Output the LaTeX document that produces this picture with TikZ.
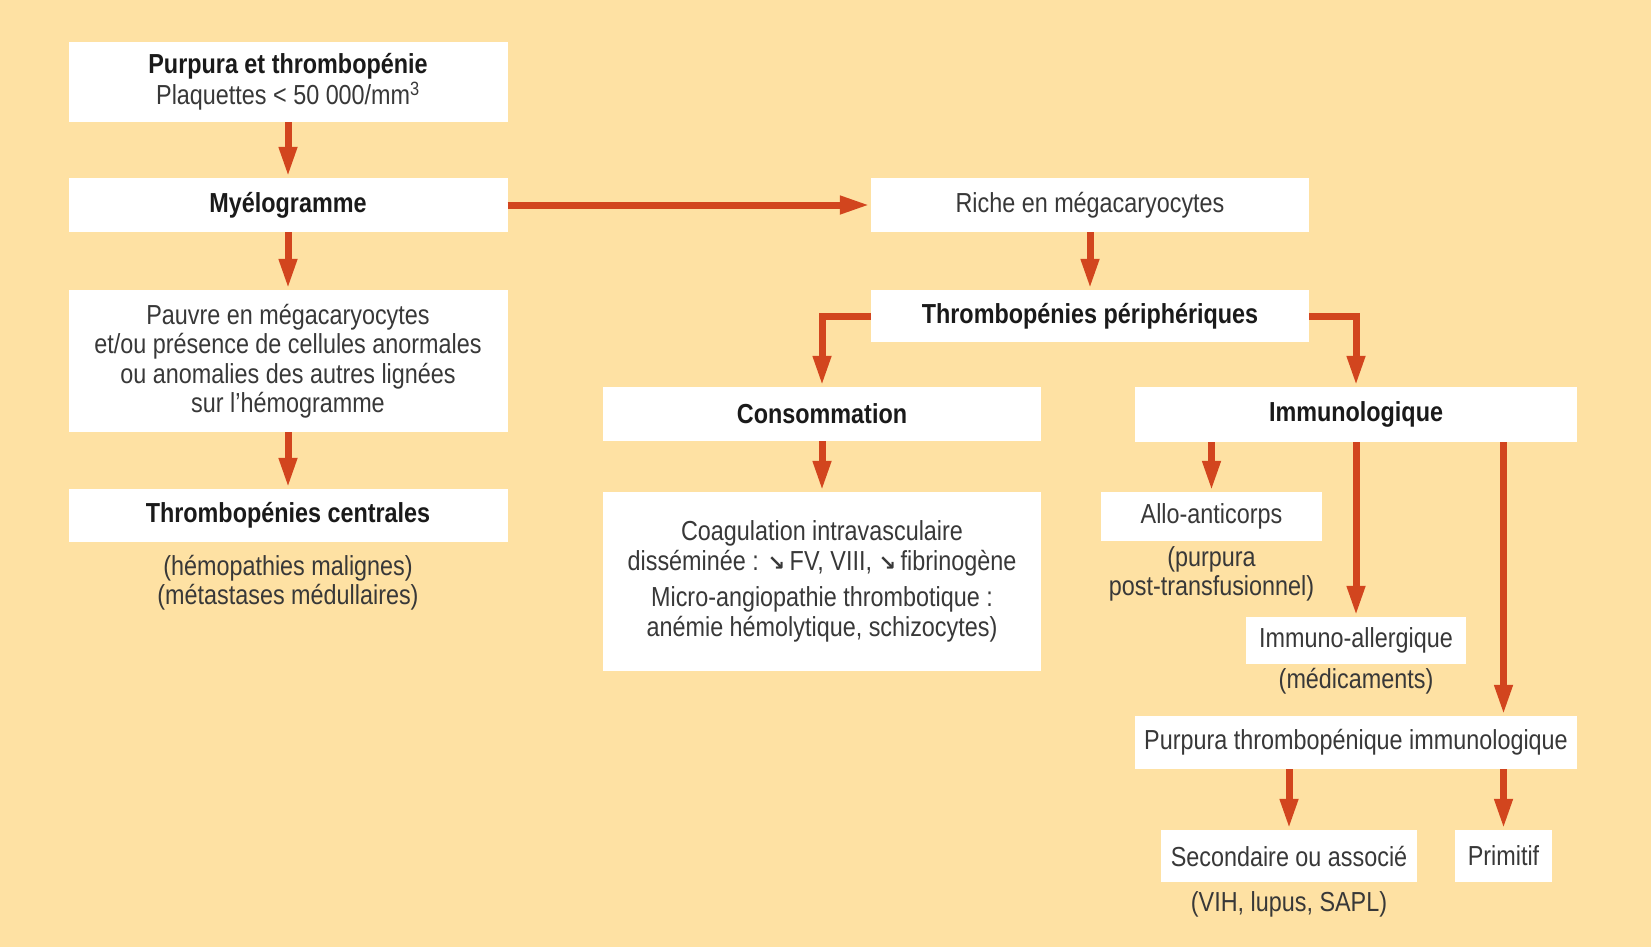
\documentclass[tikz,border=0pt]{standalone}
\usepackage{fontspec}
\setmainfont{Liberation Sans}[FakeStretch=0.85]
\newfontfamily\arrowfont{DejaVu Sans}
\usetikzlibrary{arrows.meta}
\definecolor{bg}{HTML}{FEE1A3}
\definecolor{arr}{HTML}{D2451E}
\definecolor{txt}{HTML}{383838}
\definecolor{btxt}{HTML}{1A1A1A}
\newcommand{\dnarrow}{{\arrowfont\bfseries\fontsize{21}{21}\selectfont ↘}}
\begin{document}
\begin{tikzpicture}[x=1pt,y=-1pt,
  box/.style={fill=white, inner sep=0pt, align=center, text=txt, font=\fontsize{27.5}{29.5}\selectfont},
  bbox/.style={box, text=btxt, font=\fontsize{27.5}{29.5}\selectfont\bfseries},
  lbl/.style={inner sep=0pt, align=center, text=txt, font=\fontsize{27.5}{29.5}\selectfont},
  arrow/.style={draw=arr, line width=7pt, -{Triangle[length=30pt,width=17pt]}, shorten >=1pt}
]
\fill[bg] (0,0) rectangle (1651,947);
\useasboundingbox (0,0) rectangle (1651,947);

% left column
\node[box, minimum width=439pt, minimum height=80pt] (purp) at (288,82)
  {{\bfseries\color{btxt}Purpura et thrombopénie}\\[2pt]Plaquettes < 50~000/mm\textsuperscript{3}};
\node[bbox, minimum width=439pt, minimum height=54pt] (myelo) at (288,205) {Myélogramme};
\node[box, minimum width=439pt, minimum height=142pt] (pauvre) at (288,361)
  {Pauvre en mégacaryocytes\\et/ou présence de cellules anormales\\ou anomalies des autres lignées\\sur l’hémogramme};
\node[bbox, minimum width=439pt, minimum height=53pt] (centr) at (288,515.5) {Thrombopénies centrales};
\node[lbl] (hemo) at (288,582.5) {(hémopathies malignes)\\(métastases médullaires)};

% right part
\node[box, minimum width=438pt, minimum height=54pt] (riche) at (1090,205) {Riche en mégacaryocytes};
\node[bbox, minimum width=438pt, minimum height=52pt] (periph) at (1090,316) {Thrombopénies périphériques};
\node[bbox, minimum width=438pt, minimum height=54pt] (conso) at (822,414) {Consommation};
\node[bbox, minimum width=442pt, minimum height=55pt] (immuno) at (1356,414.5) {Immunologique};
\node[box, minimum width=438pt, minimum height=179pt] (coag) at (822,581.5)
  {Coagulation intravasculaire\\disséminée : \dnarrow\,FV, VIII, \dnarrow\,fibrinogène\\[7pt]
   Micro-angiopathie thrombotique :\\anémie hémolytique, schizocytes)};
\node[box, minimum width=221pt, minimum height=49pt] (allo) at (1211.5,516.5) {Allo-anticorps};
\node[lbl] (posttr) at (1211.5,574) {(purpura\\post-transfusionnel)};
\node[box, minimum width=220pt, minimum height=47pt] (immall) at (1356,640.5) {Immuno-allergique};
\node[lbl] (medic) at (1356,681) {(médicaments)};
\node[box, minimum width=442pt, minimum height=53pt] (pti) at (1356,742.5) {Purpura thrombopénique immunologique};
\node[box, minimum width=256pt, minimum height=52pt] (sec) at (1289,856) {Secondaire ou associé};
\node[lbl] (vih) at (1289,904) {(VIH, lupus, SAPL)};
\node[box, minimum width=97pt, minimum height=52pt] (prim) at (1503.5,856) {Primitif};

% connectors
\draw[arrow] (purp.south) -- (myelo.north);
\draw[arrow] (myelo.south) -- (pauvre.north);
\draw[arrow] (pauvre.south) -- (centr.north);
\draw[arrow] (myelo.east) -- (riche.west);
\draw[arrow] (riche.south) -- (periph.north);
\draw[arrow] (periph.west) -| (conso.north);
\draw[arrow] (periph.east) -| (immuno.north);
\draw[arrow] (conso.south) -- (coag.north);
\draw[arrow] (allo.north |- immuno.south) -- (allo.north);
\draw[arrow] (immuno.south) -- (immall.north);
\draw[arrow] (prim.north |- immuno.south) -- (prim.north |- pti.north);
\draw[arrow] (sec.north |- pti.south) -- (sec.north);
\draw[arrow] (prim.north |- pti.south) -- (prim.north);
\end{tikzpicture}
\end{document}
